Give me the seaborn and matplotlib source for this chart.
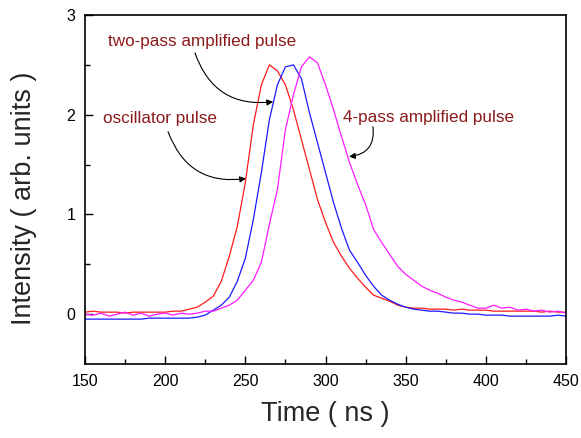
import numpy as np
import pandas as pd
import matplotlib
matplotlib.use("Agg")
import matplotlib.pyplot as plt
import seaborn as sns

# ---- data ----
time_ns = [150, 155, 160, 165, 170, 175, 180, 185, 190, 195,
           200, 205, 210, 215, 220, 225, 230, 235, 240, 245,
           250, 255, 260, 265, 270, 275, 280, 285, 290, 295,
           300, 305, 310, 315, 320, 325, 330, 335, 340, 345,
           350, 355, 360, 365, 370, 375, 380, 385, 390, 395,
           400, 405, 410, 415, 420, 425, 430, 435, 440, 445, 450]

oscillator = [0.02, 0.03, 0.02, 0.02, 0.02, 0.01, 0.02, 0.02, 0.02, 0.02,
              0.02, 0.03, 0.03, 0.05, 0.07, 0.12, 0.18, 0.33, 0.58, 0.88,
              1.32, 1.90, 2.30, 2.50, 2.44, 2.30, 2.05, 1.75, 1.45, 1.15,
              0.92, 0.72, 0.58, 0.46, 0.36, 0.27, 0.19, 0.16, 0.13, 0.09,
              0.07, 0.06, 0.06, 0.05, 0.05, 0.05, 0.04, 0.05, 0.04, 0.04,
              0.04, 0.03, 0.03, 0.03, 0.03, 0.03, 0.03, 0.02, 0.03, 0.02, 0.02]

two_pass = [-0.05, -0.05, -0.05, -0.05, -0.05, -0.05, -0.05, -0.05, -0.04, -0.04,
            -0.04, -0.04, -0.04, -0.04, -0.03, -0.01, 0.04, 0.09, 0.17, 0.33,
            0.56, 0.95, 1.42, 1.95, 2.30, 2.48, 2.50, 2.36, 2.02, 1.72,
            1.42, 1.12, 0.86, 0.64, 0.52, 0.39, 0.28, 0.19, 0.14, 0.10,
            0.07, 0.05, 0.04, 0.03, 0.03, 0.02, 0.01, 0.01, 0.00, 0.00,
            -0.01, -0.01, -0.01, -0.02, -0.02, -0.02, -0.02, -0.02, -0.02, -0.01, -0.02]

four_pass = [0.00, -0.01, 0.01, -0.02, 0.00, 0.02, -0.01, 0.01, -0.02, 0.00,
             0.01, -0.01, 0.01, 0.00, 0.01, 0.03, 0.03, 0.06, 0.09, 0.14,
             0.24, 0.34, 0.52, 0.90, 1.25, 1.85, 2.20, 2.48, 2.58, 2.52,
             2.30, 2.05, 1.78, 1.52, 1.30, 1.10, 0.85, 0.72, 0.60, 0.48,
             0.40, 0.34, 0.28, 0.24, 0.21, 0.17, 0.14, 0.12, 0.09, 0.06,
             0.06, 0.09, 0.06, 0.07, 0.04, 0.05, 0.03, 0.04, 0.02, 0.03, 0.01]

series_names = ["oscillator pulse", "two-pass amplified pulse", "4-pass amplified pulse"]
series_colors = ["#ff1a1a", "#1a1aff", "#ff1aff"]

x_ticks = [150, 200, 250, 300, 350, 400, 450]
y_ticks = [0, 1, 2, 3]

df = pd.concat([
    pd.DataFrame({"time": time_ns, "intensity": oscillator, "pulse": series_names[0]}),
    pd.DataFrame({"time": time_ns, "intensity": two_pass, "pulse": series_names[1]}),
    pd.DataFrame({"time": time_ns, "intensity": four_pass, "pulse": series_names[2]}),
])

sns.set_theme(style="ticks")
plt.rcParams["font.family"] = ["Liberation Sans", "DejaVu Sans"]

fig = plt.figure(figsize=(5.81, 4.38), dpi=100)
ax = fig.add_axes([85 / 581, 1 - 364 / 438, (566 - 85) / 581, (364 - 15) / 438])

sns.lineplot(data=df, x="time", y="intensity", hue="pulse",
             palette=dict(zip(series_names, series_colors)),
             errorbar=None, linewidth=0.9, legend=False, ax=ax)

ax.set_xlim(150, 450)
ax.set_ylim(-0.5, 3)
ax.set_xticks(x_ticks)
ax.set_yticks(y_ticks)
ax.set_xticks([175, 225, 275, 325, 375, 425], minor=True)
ax.set_yticks([0.5, 1.5, 2.5], minor=True)
ax.tick_params(which="both", direction="in", top=False, right=False, colors="black")
ax.tick_params(which="major", length=6, width=1, labelsize=11.5, pad=7)
ax.tick_params(which="minor", length=3.5, width=1)
for s in ax.spines.values():
    s.set_visible(True)
    s.set_linewidth(1.2)
    s.set_color("black")

ax.set_xlabel("Time ( ns )", fontsize=19.5)
ax.set_ylabel("Intensity ( arb. units )", fontsize=19.5)
ax.yaxis.set_label_coords(-0.100, 0.476)
ax.xaxis.set_label_coords(0.5, -0.105)

text_color = "#8b1a1a"
ax.text(164.3, 2.69, "two-pass amplified pulse", color=text_color, fontsize=12.3, va="baseline")
ax.text(161.2, 1.92, "oscillator pulse", color=text_color, fontsize=12.3, va="baseline")
ax.text(310.7, 1.93, "4-pass amplified pulse", color=text_color, fontsize=12.3, va="baseline")

arrow = dict(arrowstyle="-|>", color="black", lw=0.8, mutation_scale=9, shrinkA=0, shrinkB=0)
ax.annotate("", xy=(267.3, 2.13), xytext=(218.6, 2.62),
            arrowprops=dict(arrow, connectionstyle="arc3,rad=0.4"))
ax.annotate("", xy=(250.4, 1.36), xytext=(201.8, 1.83),
            arrowprops=dict(arrow, connectionstyle="arc3,rad=0.4"))
ax.annotate("", xy=(314.7, 1.58), xytext=(329.6, 1.88),
            arrowprops=dict(arrow, connectionstyle="arc3,rad=-0.5"))

fig.savefig("out.png", dpi=100)
